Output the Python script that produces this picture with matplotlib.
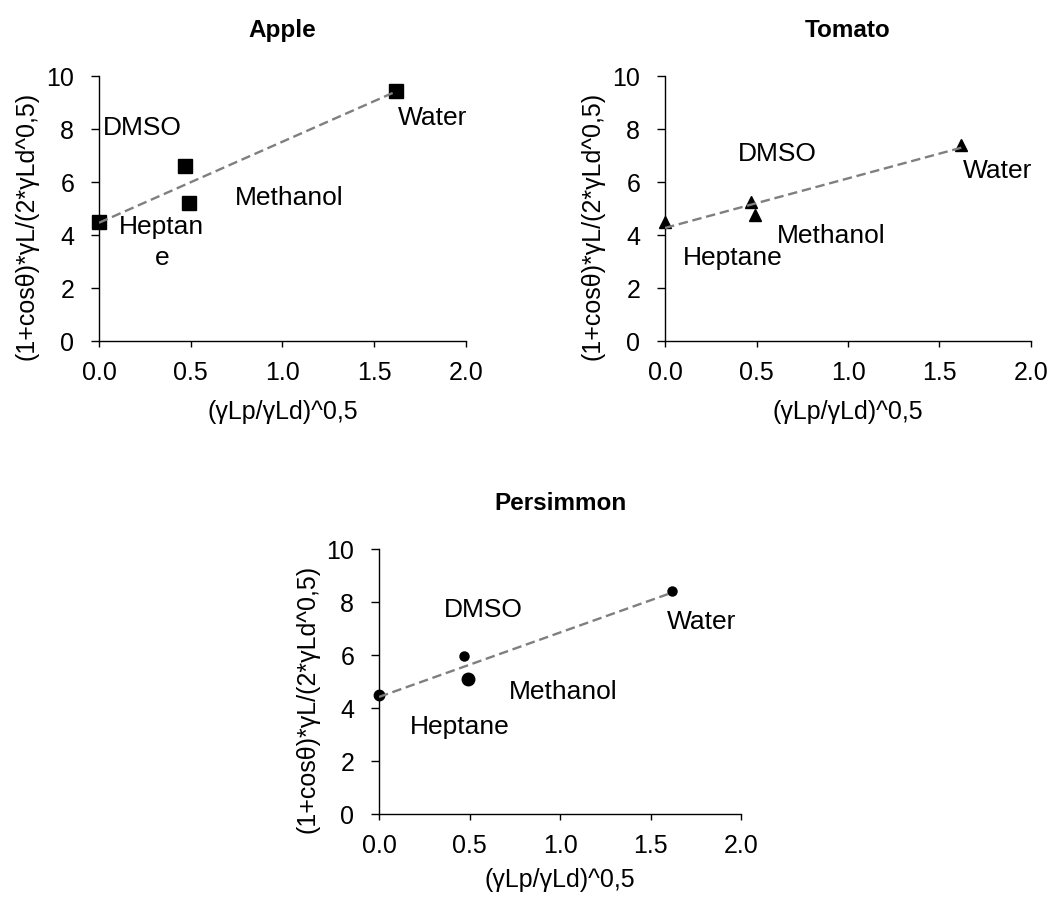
import numpy as np
import matplotlib
matplotlib.use("Agg")
import matplotlib.pyplot as plt

plt.rcParams['font.family'] = ['Liberation Sans', 'DejaVu Sans']

# Solvent coordinates: x = (γLp/γLd)^0.5, y = (1+cosθ)γL/(2·γLd^0.5)
solvents = ["Heptane", "DMSO", "Methanol", "Water"]
x_vals = [0.0, 0.47, 0.49, 1.62]

apple_y = [4.5, 6.6, 5.2, 9.45]
tomato_y = [4.5, 5.25, 4.75, 7.4]
persimmon_y = [4.5, 5.95, 5.1, 8.4]

# Label anchor points (data coordinates) for each solvent name
apple_lbl = {"DMSO": (0.02, 8.05), "Heptane": (0.11, 3.72), "Methanol": (0.74, 5.4), "Water": (1.63, 8.4)}
tomato_lbl = {"DMSO": (0.40, 7.05), "Heptane": (0.10, 3.13), "Methanol": (0.61, 3.98), "Water": (1.63, 6.4)}
persimmon_lbl = {"DMSO": (0.36, 7.7), "Heptane": (0.17, 3.28), "Methanol": (0.72, 4.6), "Water": (1.59, 7.25)}

xlabel = "(γLp/γLd)^0,5"
ylabel = "(1+cosθ)*γL/(2*γLd^0,5)"

fig = plt.figure(figsize=(10.62, 8.97), dpi=100)

TICK_FS = 18
LBL_FS = 18
ANN_FS = 19
TITLE_FS = 17.5


def panel(rect, title, y, labels, marker, msizes, xlab_y, heptane_text="Heptane"):
    ax = fig.add_axes(rect)
    x = np.array(x_vals)
    y = np.array(y)
    slope, icpt = np.polyfit(x, y, 1)
    xs = np.array([0.0, x.max()])
    ax.plot(xs, icpt + slope * xs, ls=(0, (4, 2)), color="#7f7f7f", lw=1.7, zorder=3)
    for xi, yi, ms in zip(x, y, msizes):
        ax.plot(xi, yi, marker=marker, ms=ms, color="black", ls="none", zorder=2, clip_on=False)
    for name in solvents:
        lx, ly = labels[name]
        txt = heptane_text if name == "Heptane" else name
        ax.text(lx, ly, txt, fontsize=ANN_FS, ha="left", va="center",
                multialignment="center", linespacing=1.4)
    ax.set_xlim(0, 2.0)
    ax.set_ylim(0, 10)
    ax.set_xticks(np.arange(0, 2.01, 0.5))
    ax.set_xticklabels([f"{v:.1f}" for v in np.arange(0, 2.01, 0.5)])
    ax.set_yticks(np.arange(0, 10.1, 2))
    for s in ("top", "right"):
        ax.spines[s].set_visible(False)
    for s in ("left", "bottom"):
        ax.spines[s].set_linewidth(1.0)
    ax.tick_params(axis="x", direction="out", length=4.3, width=1, labelsize=TICK_FS, pad=10)
    ax.tick_params(axis="y", direction="out", length=5.8, width=1, labelsize=TICK_FS, pad=12)
    ax.set_xlabel(xlabel, fontsize=LBL_FS, va="top")
    ax.xaxis.set_label_coords(0.5, xlab_y)
    ax.set_ylabel(ylabel, fontsize=LBL_FS)
    ax.yaxis.set_label_coords(-0.165, 0.434)
    ax.set_title(title, fontsize=TITLE_FS, fontweight="bold", pad=28)
    return ax


panel([0.0932, 0.6198, 0.3456, 0.2954], "Apple", apple_y, apple_lbl, "s", [9.5, 9.5, 9.5, 9.5],
      -0.222, heptane_text="Heptan\ne")
panel([0.6262, 0.6198, 0.3446, 0.2954], "Tomato", tomato_y, tomato_lbl, "^", [8, 8, 8, 8], -0.222)
panel([0.3569, 0.0925, 0.3409, 0.2954], "Persimmon", persimmon_y, persimmon_lbl, "o", [7.5, 6.5, 9, 6.5],
      -0.205)

fig.savefig("out.png", dpi=100)
